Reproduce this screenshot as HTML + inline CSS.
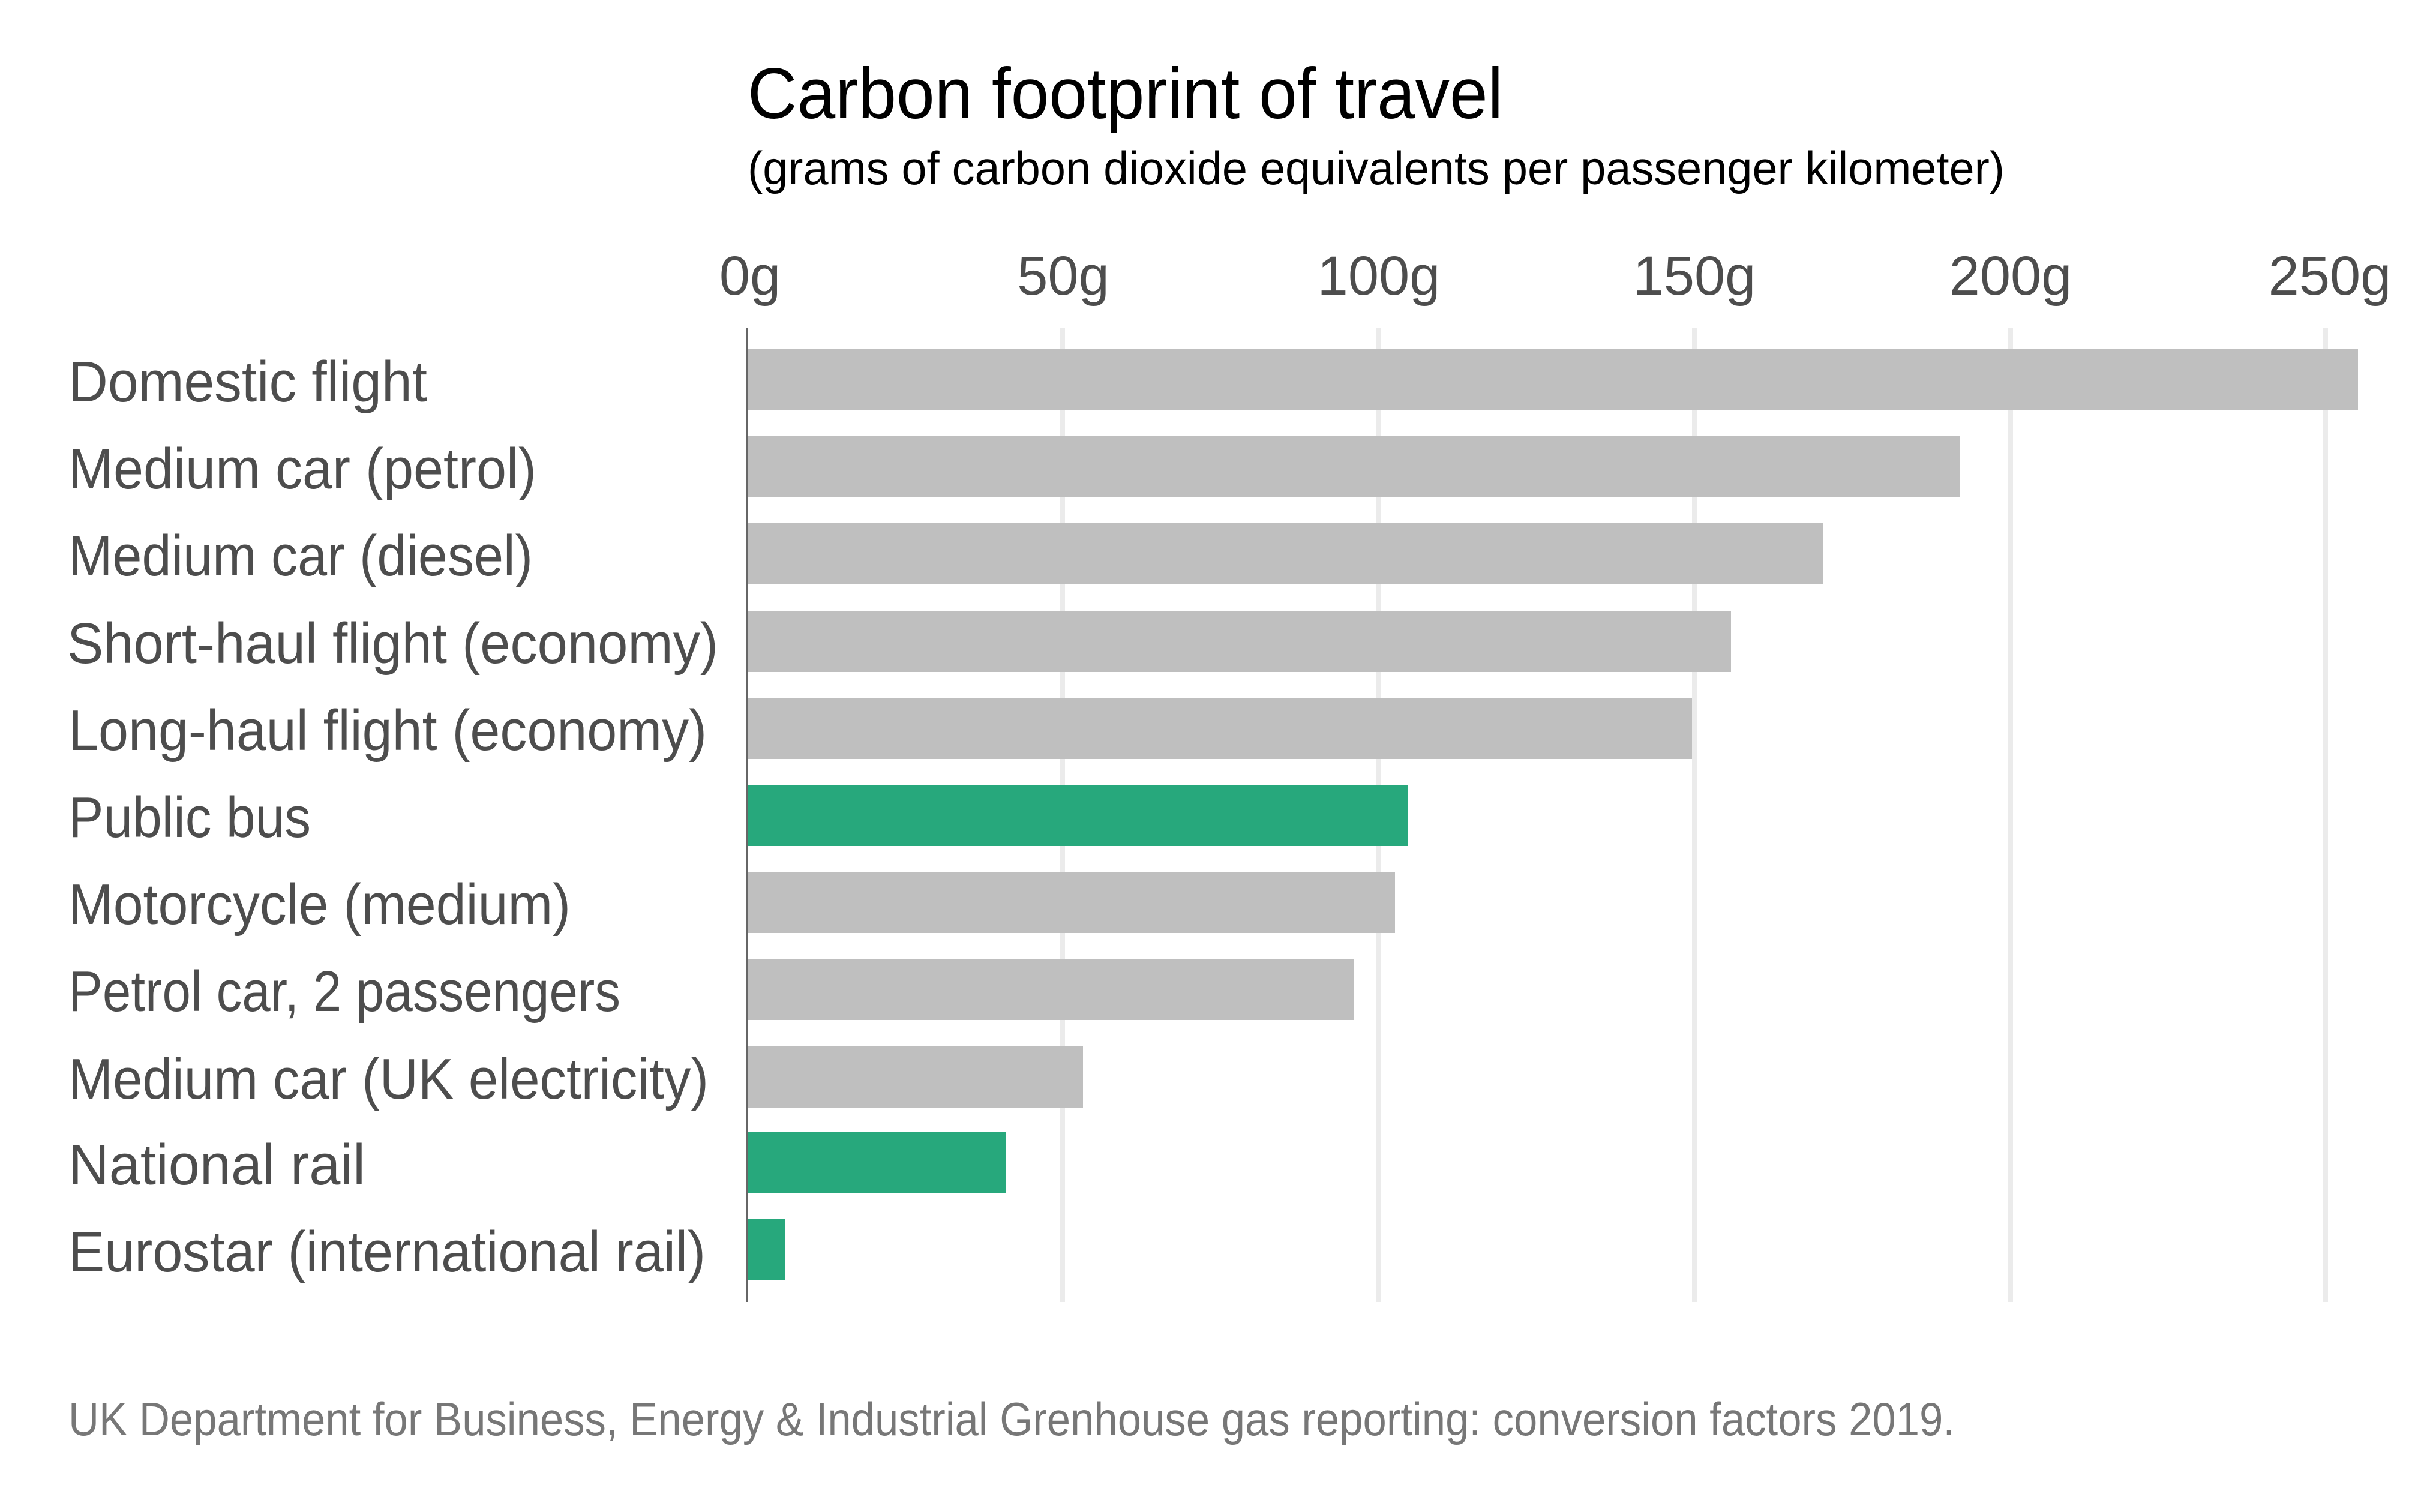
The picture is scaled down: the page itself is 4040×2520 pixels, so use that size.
<!DOCTYPE html>
<html><head><meta charset="utf-8"><style>
html,body{margin:0;padding:0;background:#fff;}
svg{display:block;}
text{font-family:"Liberation Sans",sans-serif;}
</style></head><body>
<svg width="4040" height="2520" viewBox="0 0 4040 2520" xmlns="http://www.w3.org/2000/svg">
<rect width="4040" height="2520" fill="#fff"/>
<text x="1246" y="197" font-size="120" fill="#000" textLength="1259" lengthAdjust="spacingAndGlyphs">Carbon footprint of travel</text>
<text x="1246" y="307" font-size="78" fill="#000" textLength="2095" lengthAdjust="spacingAndGlyphs">(grams of carbon dioxide equivalents per passenger kilometer)</text>
<g font-size="92" fill="#4d4d4d" text-anchor="middle">
<text x="1250" y="491">0g</text>
<text x="1772" y="491">50g</text>
<text x="2298" y="491">100g</text>
<text x="2824" y="491">150g</text>
<text x="3351" y="491">200g</text>
<text x="3883" y="491">250g</text>
</g>
<g stroke="#ebebeb" stroke-width="8">
<line x1="1771" y1="546" x2="1771" y2="2170"/>
<line x1="2298" y1="546" x2="2298" y2="2170"/>
<line x1="2824" y1="546" x2="2824" y2="2170"/>
<line x1="3351" y1="546" x2="3351" y2="2170"/>
<line x1="3876" y1="546" x2="3876" y2="2170"/>
</g>
<g>
<rect x="1245" y="582" width="2685" height="102" fill="#bfbfbf"/>
<rect x="1245" y="727" width="2022" height="102" fill="#bfbfbf"/>
<rect x="1245" y="872" width="1794" height="102" fill="#bfbfbf"/>
<rect x="1245" y="1018" width="1640" height="102" fill="#bfbfbf"/>
<rect x="1245" y="1163" width="1575" height="102" fill="#bfbfbf"/>
<rect x="1245" y="1308" width="1102" height="102" fill="#27a87c"/>
<rect x="1245" y="1453" width="1080" height="102" fill="#bfbfbf"/>
<rect x="1245" y="1598" width="1011" height="102" fill="#bfbfbf"/>
<rect x="1245" y="1744" width="560" height="102" fill="#bfbfbf"/>
<rect x="1245" y="1887" width="432" height="102" fill="#27a87c"/>
<rect x="1245" y="2032" width="63" height="102" fill="#27a87c"/>
</g>
<line x1="1245" y1="546" x2="1245" y2="2170" stroke="#666" stroke-width="4"/>
<g font-size="96" fill="#4d4d4d">
<text x="114" y="669" textLength="598" lengthAdjust="spacingAndGlyphs">Domestic flight</text>
<text x="114" y="814" textLength="780" lengthAdjust="spacingAndGlyphs">Medium car (petrol)</text>
<text x="114" y="959" textLength="774" lengthAdjust="spacingAndGlyphs">Medium car (diesel)</text>
<text x="112" y="1105" textLength="1085" lengthAdjust="spacingAndGlyphs">Short-haul flight (economy)</text>
<text x="114" y="1250" textLength="1064" lengthAdjust="spacingAndGlyphs">Long-haul flight (economy)</text>
<text x="114" y="1395" textLength="404" lengthAdjust="spacingAndGlyphs">Public bus</text>
<text x="114" y="1540" textLength="837" lengthAdjust="spacingAndGlyphs">Motorcycle (medium)</text>
<text x="114" y="1685" textLength="920" lengthAdjust="spacingAndGlyphs">Petrol car, 2 passengers</text>
<text x="114" y="1831" textLength="1067" lengthAdjust="spacingAndGlyphs">Medium car (UK electricity)</text>
<text x="114" y="1974" textLength="495" lengthAdjust="spacingAndGlyphs">National rail</text>
<text x="114" y="2119" textLength="1062" lengthAdjust="spacingAndGlyphs">Eurostar (international rail)</text>
</g>
<text x="114" y="2392" font-size="78" fill="#777" textLength="3144" lengthAdjust="spacingAndGlyphs">UK Department for Business, Energy &amp; Industrial Grenhouse gas reporting: conversion factors 2019.</text>
</svg>
</body></html>
